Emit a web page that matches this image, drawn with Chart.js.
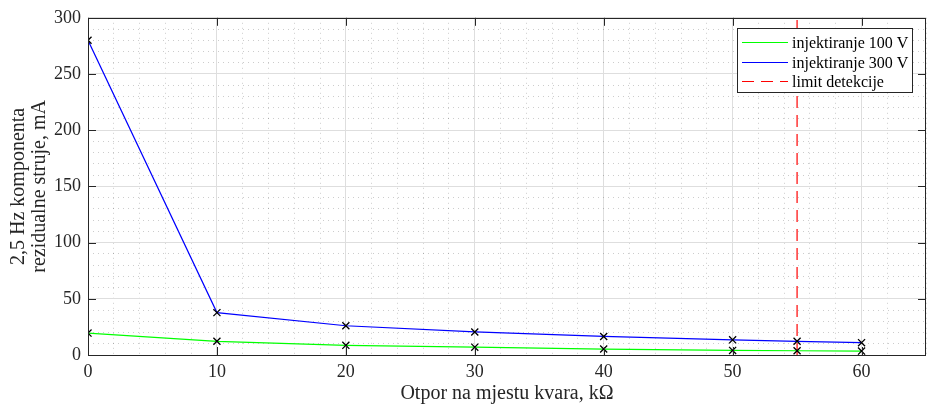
<!DOCTYPE html>
<html>
<head>
<meta charset="utf-8">
<script src="https://cdn.jsdelivr.net/npm/chart.js@4"></script>
<style>
  body { margin: 0; background: #fff; }
  #wrap { width: 928px; height: 405px; }
</style>
</head>
<body>
<div id="wrap"><canvas id="chart" width="928" height="405"></canvas></div>
<script>
const otpor = [0, 10, 20, 30, 40, 50, 55, 60]; // kOhm
const struja100 = [19.5, 12.2, 8.6, 7.0, 5.3, 4.1, 3.8, 3.5]; // mA
const struja300 = [280, 37.7, 26, 20.5, 16.5, 13.5, 12.2, 11]; // mA
const limitX = 55;
const limitY = [0, 300];
const xLabels = [0, 10, 20, 30, 40, 50, 60];
const yLabels = [0, 50, 100, 150, 200, 250, 300];
const legendNames = ['injektiranje 100 V', 'injektiranje 300 V', 'limit detekcije'];

const serif = "'Liberation Serif', 'Times New Roman', serif";
const axisColor = '#262626';

function toPoints(xs, ys) {
    return xs.map((x, i) => ({ x: x, y: ys[i] }));
}

// box round the plot with inward ticks, like matlab
const boxPlugin = {
    id: 'box',
    afterDatasetsDraw(chart) {
        const { ctx, chartArea: a, scales } = chart;
        ctx.save();
        ctx.strokeStyle = axisColor;
        ctx.lineWidth = 1;
        ctx.beginPath();
        ctx.rect(Math.round(a.left) + 0.5, Math.round(a.top) + 0.5,
                 Math.round(a.right - a.left) - 1, Math.round(a.bottom - a.top));
        const len = 8;
        xLabels.forEach(v => {
            const px = Math.round(scales.x.getPixelForValue(v)) + 0.5;
            ctx.moveTo(px, a.bottom); ctx.lineTo(px, a.bottom - len);
            ctx.moveTo(px, a.top); ctx.lineTo(px, a.top + len);
        });
        yLabels.forEach(v => {
            const py = Math.round(scales.y.getPixelForValue(v)) + 0.5;
            ctx.moveTo(a.left, py); ctx.lineTo(a.left + len, py);
            ctx.moveTo(a.right, py); ctx.lineTo(a.right - len, py);
        });
        ctx.stroke();
        ctx.restore();
    }
};

// legend inside the plot, top right
const legendPlugin = {
    id: 'innerLegend',
    afterDraw(chart) {
        const ctx = chart.ctx;
        const x0 = 737, y0 = 28, w = 175, h = 64;
        ctx.save();
        ctx.fillStyle = '#fff';
        ctx.fillRect(x0, y0, w, h);
        ctx.strokeStyle = axisColor;
        ctx.lineWidth = 1;
        ctx.strokeRect(x0 + 0.5, y0 + 0.5, w, h);
        ctx.font = '16px ' + serif;
        ctx.textBaseline = 'middle';
        ctx.fillStyle = '#000';
        chart.data.datasets.forEach((ds, i) => {
            const y = Math.round(y0 + 14 + i * 19.5) + 0.5;
            ctx.strokeStyle = ds.borderColor;
            ctx.setLineDash(ds.borderDash || []);
            ctx.beginPath();
            ctx.moveTo(742, y); ctx.lineTo(788, y);
            ctx.stroke();
            ctx.setLineDash([]);
            ctx.fillText(ds.label, 792, y + 1);
        });
        ctx.restore();
    }
};

new Chart(document.getElementById('chart'), {
    type: 'line',
    data: {
        datasets: [{
            label: legendNames[0],
            data: toPoints(otpor, struja100),
            borderColor: '#00ff00',
            borderWidth: 1.2,
            pointStyle: 'crossRot',
            pointRadius: 5,
            pointBorderColor: '#000',
            pointBorderWidth: 1.3,
            order: 2
        }, {
            label: legendNames[1],
            data: toPoints(otpor, struja300),
            borderColor: '#0000ff',
            borderWidth: 1.2,
            pointStyle: 'crossRot',
            pointRadius: 5,
            pointBorderColor: '#000',
            pointBorderWidth: 1.3,
            order: 1
        }, {
            label: legendNames[2],
            data: limitY.map(y => ({ x: limitX, y: y })),
            borderColor: '#ff0000',
            borderWidth: 1.2,
            borderDash: [12, 7],
            pointRadius: 0,
            order: 3
        }]
    },
    options: {
        responsive: false,
        animation: false,
        layout: { autoPadding: false, padding: { top: 17, right: 2, left: 0, bottom: 0 } },
        plugins: {
            legend: { display: false },
            tooltip: { enabled: false }
        },
        scales: {
            x: {
                type: 'linear',
                min: 0,
                max: 65,
                afterFit: s => { s.height = 50; s.paddingRight = 0; },
                ticks: {
                    stepSize: 2,
                    autoSkip: false,
                    maxRotation: 0,
                    padding: 6,
                    color: '#262626',
                    font: { family: serif, size: 18 },
                    callback: v => xLabels.includes(v) ? String(v) : ''
                },
                grid: {
                    drawTicks: false,
                    color: c => xLabels.includes(c.tick.value) ? '#dedede' : 'rgba(0,0,0,0.2)'
                },
                border: {
                    display: false,
                    dash: c => (c.tick && xLabels.includes(c.tick.value)) ? [] : [1, 4]
                },
                title: {
                    display: true,
                    text: 'Otpor na mjestu kvara, kΩ',
                    color: '#262626',
                    font: { family: serif, size: 20, lineHeight: 1.1 },
                    padding: { top: 0, bottom: 0 }
                }
            },
            y: {
                type: 'linear',
                min: 0,
                max: 300,
                afterFit: s => { s.width = 88; },
                ticks: {
                    stepSize: 10,
                    autoSkip: false,
                    padding: 7,
                    color: '#262626',
                    font: { family: serif, size: 18 },
                    callback: v => yLabels.includes(v) ? String(v) : ''
                },
                grid: {
                    drawTicks: false,
                    color: c => yLabels.includes(c.tick.value) ? '#dedede' : 'rgba(0,0,0,0.2)'
                },
                border: {
                    display: false,
                    dash: c => (c.tick && yLabels.includes(c.tick.value)) ? [] : [1, 4]
                },
                title: {
                    display: true,
                    text: ['2,5 Hz komponenta', 'rezidualne struje, mA'],
                    color: '#262626',
                    font: { family: serif, size: 20, lineHeight: 1.05 },
                    padding: { top: 8, bottom: 0 }
                }
            }
        }
    },
    plugins: [boxPlugin, legendPlugin]
});
</script>
</body>
</html>
